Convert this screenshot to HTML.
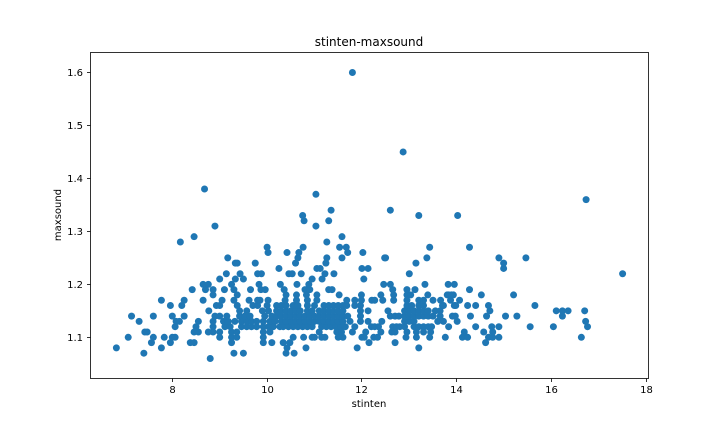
<!DOCTYPE html>
<html>
<head>
<meta charset="utf-8">
<title>stinten-maxsound</title>
<style>
html,body{margin:0;padding:0;background:#fff;width:720px;height:432px;overflow:hidden}
svg{display:block}
text{font-family:"DejaVu Sans",sans-serif;fill:#000}
</style>
</head>
<body>
<svg id="chart" width="720" height="432" viewBox="0 0 720 432" xmlns="http://www.w3.org/2000/svg">
  <rect x="0" y="0" width="720" height="432" fill="#fff"/>
  <g id="points"></g>
  <rect x="90.5" y="52.5" width="558" height="326" fill="none" stroke="#000" stroke-width="0.8"/>
  <g id="xticks"></g>
  <g id="yticks"></g>
  <text x="369" y="46" font-size="12" text-anchor="middle">stinten-maxsound</text>
  <text x="369" y="407" font-size="10" text-anchor="middle">stinten</text>
  <text x="61" y="215" font-size="10" text-anchor="middle" transform="rotate(-90 61 215)">maxsound</text>
</svg>
<script>
const xTickValues = [8, 10, 12, 14, 16, 18];
const yTickValues = [1.1, 1.2, 1.3, 1.4, 1.5, 1.6];
const maxsoundLevels = [1.06, 1.07, 1.08, 1.09, 1.10, 1.11, 1.12, 1.13, 1.14, 1.15, 1.16, 1.17, 1.18, 1.19, 1.20, 1.21, 1.22, 1.23, 1.24, 1.25, 1.26, 1.27, 1.28, 1.29, 1.31, 1.32, 1.33, 1.34, 1.36, 1.37, 1.38, 1.45, 1.60];
const stintenByLevel = [
  [8.8],
  [7.4, 9.3, 9.5, 10.4, 10.57],
  [6.82, 7.77, 10.42, 10.82, 11.9, 13.2],
  [7.56, 7.96, 8.38, 8.46, 9.25, 9.92, 10.34, 10.1, 10.48, 12.15, 12.7, 14.61],
  [7.07, 7.6, 7.83, 8.0, 8.06, 9.0, 9.25, 9.36, 9.92, 10.55, 10.77, 10.95, 11.0, 11.15, 11.22, 11.5, 11.6, 12.0, 12.05, 12.25, 12.33, 12.93, 13.15, 13.43, 13.76, 14.12, 14.23, 14.67, 14.76, 14.89, 16.63],
  [7.42, 7.47, 8.46, 8.55, 8.76, 8.86, 9.0, 9.25, 9.36, 9.92, 10.06, 11.1, 11.47, 11.57, 11.8, 12.08, 12.4, 12.63, 12.7, 12.95, 13.15, 13.3, 13.45, 14.16, 14.57, 14.76],
  [8.06, 8.5, 8.86, 9.11, 9.22, 9.46, 9.57, 9.67, 9.78, 9.92, 10.03, 10.13, 10.27, 10.34, 10.45, 10.55, 10.65, 10.75, 10.85, 10.95, 11.15, 11.25, 11.35, 11.45, 11.55, 11.65, 11.85, 12.2, 12.27, 12.35, 12.65, 12.73, 12.8, 12.9, 13.1, 13.2, 13.3, 13.4, 13.47, 13.83, 14.4, 14.74, 14.89, 15.55, 16.04, 16.76],
  [7.3, 8.08, 8.15, 8.55, 8.86, 9.08, 9.18, 9.32, 9.46, 9.57, 9.67, 9.78, 9.92, 10.06, 10.17, 10.3, 10.4, 10.5, 10.6, 10.7, 10.8, 10.9, 11.0, 11.1, 11.2, 11.3, 11.4, 11.5, 11.6, 11.75, 11.97, 12.13, 12.42, 12.9, 13.0, 13.1, 13.6, 13.72, 14.01, 16.72],
  [7.14, 7.6, 8.0, 8.25, 8.9, 9.0, 9.15, 9.42, 9.53, 9.64, 9.95, 10.1, 10.2, 10.3, 10.4, 10.5, 10.6, 10.7, 10.8, 10.9, 11.0, 11.1, 11.2, 11.3, 11.4, 11.5, 11.6, 11.7, 11.97, 12.6, 12.7, 12.78, 12.9, 13.0, 13.1, 13.2, 13.3, 13.4, 13.5, 13.65, 13.91, 13.97, 14.29, 14.63, 15.03, 15.27, 16.23],
  [8.77, 9.42, 9.57, 9.9, 10.03, 10.2, 10.3, 10.4, 10.5, 10.6, 10.7, 10.85, 10.95, 11.1, 11.2, 11.3, 11.4, 11.5, 11.6, 11.97, 12.13, 12.55, 12.9, 13.0, 13.1, 13.2, 13.3, 13.4, 13.55, 13.65, 14.7, 16.1, 16.23, 16.35, 16.7],
  [7.96, 8.2, 8.93, 9.0, 9.37, 9.7, 9.8, 10.0, 10.2, 10.3, 10.4, 10.55, 10.65, 10.85, 11.0, 11.2, 11.3, 11.4, 11.5, 11.6, 11.68, 11.85, 11.97, 12.95, 13.05, 13.2, 13.3, 13.7, 13.72, 13.95, 13.98, 14.23, 14.4, 14.67, 15.65],
  [7.77, 8.25, 8.65, 9.05, 9.3, 9.62, 9.8, 9.85, 10.02, 10.38, 10.62, 10.85, 11.05, 11.68, 11.85, 11.99, 12.21, 12.27, 12.44, 12.67, 12.95, 13.2, 13.3, 13.5, 13.66, 13.87, 14.06],
  [8.86, 9.37, 10.4, 10.62, 10.83, 11.05, 11.52, 11.99, 12.4, 12.67, 12.95, 13.03, 13.39, 13.8, 13.83, 13.89, 13.93, 14.52, 15.2],
  [8.42, 8.7, 8.86, 9.1, 9.3, 9.65, 9.87, 9.96, 10.36, 10.8, 10.9, 11.3, 11.37, 12.65, 12.95, 13.12, 14.27],
  [8.65, 8.76, 9.25, 9.83, 10.28, 10.63, 10.88, 12.46, 12.6, 13.33, 13.82, 13.95],
  [9.0, 9.33, 9.5, 10.95, 11.16, 12.04],
  [9.14, 9.43, 9.8, 9.88, 10.46, 10.53, 10.72, 11.22, 11.41, 13.0, 17.5],
  [10.25, 11.05, 11.12, 12.0, 12.13, 14.99],
  [9.33, 9.37, 9.75, 10.6, 11.24, 13.14, 14.99],
  [9.17, 10.65, 11.26, 11.58, 12.48, 12.5, 13.37, 14.89, 15.46],
  [10.02, 10.42, 10.67, 11.7, 12.02],
  [10.0, 10.76, 11.53, 11.67, 13.43, 14.27],
  [8.17, 11.26],
  [8.46, 11.58],
  [8.9, 11.03],
  [10.78, 11.3],
  [10.75, 13.2, 14.02],
  [11.35, 12.6],
  [16.73],
  [11.03],
  [8.68],
  [12.87],
  [11.8]
];

function xScale(v) { return 172.3 + (v - 8) * 47.4; }
function yScale(v) { return 337.3 - (v - 1.1) * 529.6; }

const NS = 'http://www.w3.org/2000/svg';
const pointsGroup = document.getElementById('points');
stintenByLevel.forEach(function (row, i) {
  row.forEach(function (sx) {
    const c = document.createElementNS(NS, 'circle');
    
    
    c.setAttribute('cx', xScale(sx).toFixed(2));
    c.setAttribute('cy', yScale(maxsoundLevels[i]).toFixed(2));
    c.setAttribute('r', '3.5');
    c.setAttribute('fill', '#1f77b4');
    pointsGroup.appendChild(c);
  });
});

const xTickGroup = document.getElementById('xticks');
xTickValues.forEach(function (t) {
  const px = Math.round(xScale(t) - 0.5) + 0.5;
  const l = document.createElementNS(NS, 'line');
  
  
  l.setAttribute('x1', px);
  l.setAttribute('x2', px);
  l.setAttribute('y1', 378.5);
  l.setAttribute('y2', 382);
  l.setAttribute('stroke', '#000');
  l.setAttribute('stroke-width', '0.8');
  xTickGroup.appendChild(l);
  const s = document.createElementNS(NS, 'text');
  
  
  s.setAttribute('x', px);
  s.setAttribute('y', 393);
  s.setAttribute('font-size', '10');
  s.setAttribute('text-anchor', 'middle');
  s.textContent = String(t);
  xTickGroup.appendChild(s);
});

const yTickGroup = document.getElementById('yticks');
yTickValues.forEach(function (t) {
  const py = Math.round(yScale(t) - 0.5) + 0.5;
  const l = document.createElementNS(NS, 'line');
  
  
  l.setAttribute('x1', 87);
  l.setAttribute('x2', 90.5);
  l.setAttribute('y1', py);
  l.setAttribute('y2', py);
  l.setAttribute('stroke', '#000');
  l.setAttribute('stroke-width', '0.8');
  yTickGroup.appendChild(l);
  const s = document.createElementNS(NS, 'text');
  
  
  s.setAttribute('x', 83);
  s.setAttribute('y', py + 3.5);
  s.setAttribute('font-size', '10');
  s.setAttribute('text-anchor', 'end');
  s.textContent = t.toFixed(1);
  yTickGroup.appendChild(s);
});
</script>
</body>
</html>
